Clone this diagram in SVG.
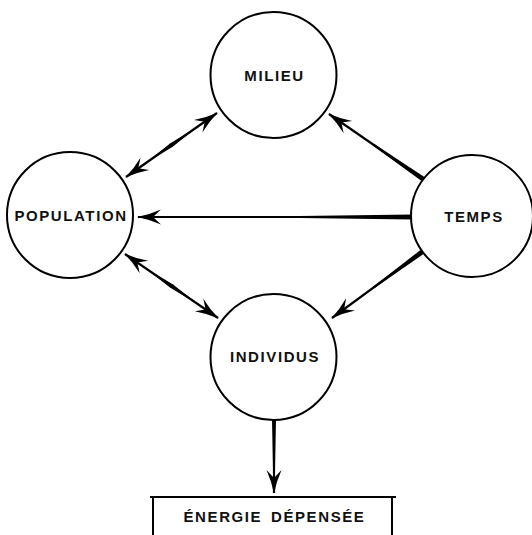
<svg xmlns="http://www.w3.org/2000/svg" width="532" height="535" viewBox="0 0 532 535">
<style>
.node circle{fill:#fff;stroke:#000;stroke-width:2}
.lbl{font-family:"Liberation Sans",Arial,sans-serif;font-size:15px;font-weight:bold;letter-spacing:1.6px;text-anchor:middle;dominant-baseline:central;fill:#111}
.conn line{stroke:#000;stroke-width:2.2}
.conn polygon{fill:#000}
.box{fill:none;stroke:#000;stroke-width:2}
</style>
<defs>
<marker id="ah" markerUnits="userSpaceOnUse" viewBox="-26 -9 28 18" refX="0" refY="0" markerWidth="28" markerHeight="18" orient="auto-start-reverse">
<path d="M1,0 Q-12,-2.5 -23,-7.5 L-15,0 L-23,7.5 Q-12,2.5 1,0 Z" fill="#000"/>
</marker>
</defs>
<rect width="532" height="535" fill="#fff"/>
<g id="connectors" class="conn">
<line x1="126" y1="177" x2="217" y2="113" marker-start="url(#ah)" marker-end="url(#ah)"/>
<polygon points="146.5,162.6 172.7,146.8 196.6,127.4 170.3,143.2"/>
<line x1="125" y1="254" x2="218" y2="318" marker-start="url(#ah)" marker-end="url(#ah)"/>
<polygon points="145.6,268.2 170.3,287.8 197.4,303.8 172.7,284.2"/>
<line x1="423" y1="179" x2="329" y2="114" marker-end="url(#ah)"/>
<polygon points="424.4,176.9 374.3,144.1 373.1,145.7 421.6,181.1"/>
<line x1="412" y1="217" x2="138" y2="217" marker-end="url(#ah)"/>
<polygon points="413,214.6 300,216 300,218 413,219.4"/>
<line x1="422" y1="252" x2="332" y2="318" marker-end="url(#ah)"/>
<polygon points="423.5,254.0 374.2,288.3 373.0,286.7 420.5,250.0"/>
<line x1="274" y1="420" x2="274" y2="493" marker-end="url(#ah)"/>
<polygon points="272,419 276,419 275,468 273,468"/>
</g>
<g id="milieu" class="node"><circle cx="273.5" cy="75" r="63"/><text class="lbl" x="274.5" y="75">MILIEU</text></g>
<g id="population" class="node"><circle cx="70" cy="215" r="63"/><text class="lbl" x="71" y="215">POPULATION</text></g>
<g id="temps" class="node"><circle cx="472" cy="216" r="61"/><text class="lbl" x="474" y="216">TEMPS</text></g>
<g id="individus" class="node"><circle cx="273.5" cy="357" r="63"/><text class="lbl" x="275" y="356">INDIVIDUS</text></g>
<g id="energie">
<path class="box" d="M150,497 H396 M153,497 V536 M392,497 V536"/>
<text class="lbl" x="274.5" y="516" style="word-spacing:3px">ÉNERGIE DÉPENSÉE</text>
</g>
</svg>
